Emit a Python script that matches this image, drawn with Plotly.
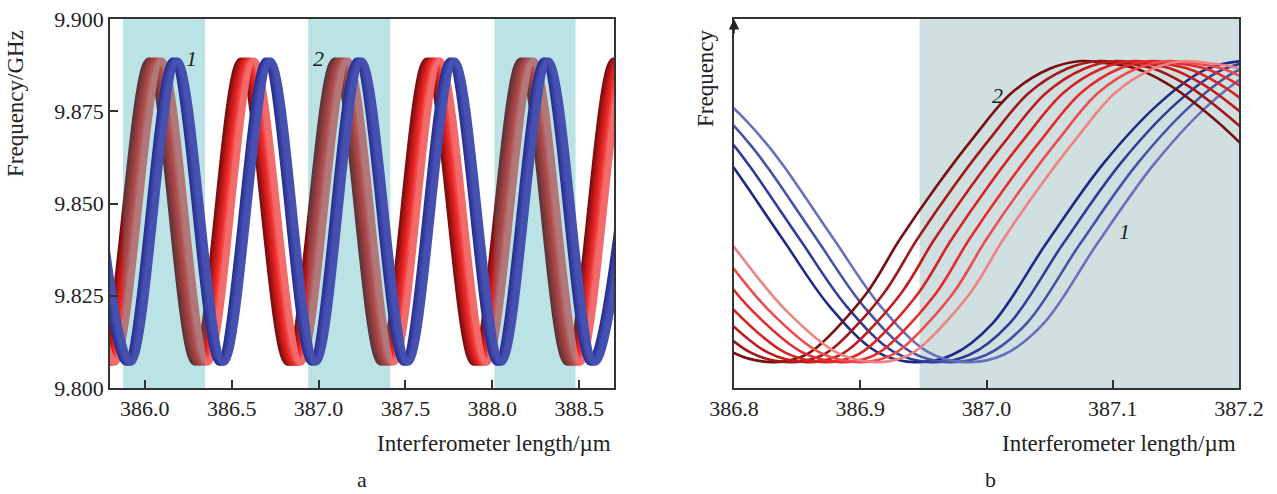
import plotly.graph_objects as go

# ---------------- panel a: periodic tuning curves ----------------
A_F_MIN = 9.807      # GHz, trough level
A_F_MAX = 9.8886     # GHz, peak level
A_Y_RANGE = [9.800, 9.900]
RED_A_PEAKS = [385.525, 386.06, 386.59, 387.13, 387.66, 388.20, 388.735]
RED_A_TROUGHS = [385.79, 386.325, 386.86, 387.395, 387.93, 388.4675, 389.0]
BLUE_A_PEAKS = [385.64, 386.175, 386.71, 387.235, 387.77, 388.31, 388.845]
BLUE_A_TROUGHS = [385.9075, 386.4425, 386.9725, 387.5025, 388.04, 388.5775]
RED_A_SHIFTS = [-0.0375, -0.025, -0.0125, 0.0, 0.0125, 0.025, 0.0375]
BLUE_A_SHIFTS = [-0.0145, -0.0048, 0.0048, 0.0145]
RED_A_COLORS = ["#7f0d0d", "#9e1414", "#bf1a1a", "#dc2020", "#ec2c2c", "#f14848", "#f26a6a"]
BLUE_A_COLORS = ["#2a2f90", "#333b9c", "#3c45a6", "#4650b0"]
A_BANDS = [(385.875, 386.347), (386.94, 387.413), (388.012, 388.479)]
A_XTICKS = [386.0, 386.5, 387.0, 387.5, 388.0, 388.5]
A_YTICKS = [9.800, 9.825, 9.850, 9.875, 9.900]

# ---------------- panel b: zoomed detail ----------------
RED_B_MINS = [386.830, 386.8437, 386.8574, 386.871, 386.885, 386.8985, 386.912]
BLUE_B_MINS = [386.943, 386.9565, 386.970, 386.9835]
RED_B_DX = [-0.29, -0.26, -0.23, -0.20, -0.17, -0.14, -0.112, -0.071, -0.03, 0.0, 0.023,
            0.036, 0.075, 0.101, 0.13, 0.16, 0.19, 0.22, 0.245, 0.26, 0.287, 0.315, 0.342,
            0.37, 0.40, 0.45]
RED_B_F = [9.8886, 9.8876, 9.8832, 9.8752, 9.864, 9.8508, 9.8382, 9.8211, 9.8095, 9.807,
           9.8084, 9.8111, 9.8257, 9.8401, 9.8545, 9.868, 9.880, 9.8865, 9.8886, 9.8882,
           9.8867, 9.8821, 9.8753, 9.8667, 9.855, 9.835]
BLUE_B_DX = [-0.27, -0.24, -0.21, -0.184, -0.157, -0.143, -0.104, -0.067, -0.03, 0.0, 0.03,
             0.062, 0.104, 0.15, 0.194, 0.23, 0.26, 0.30, 0.36]
BLUE_B_F = [9.8886, 9.887, 9.8826, 9.8759, 9.8659, 9.8596, 9.8401, 9.822, 9.8098, 9.807,
            9.809, 9.8176, 9.839, 9.861, 9.8772, 9.8862, 9.8886, 9.887, 9.876]
RED_B_COLORS = ["#7a0e0e", "#a21717", "#bf1c1c", "#d62323", "#e52b2b", "#ec4c4c", "#ef8282"]
BLUE_B_COLORS = ["#1e2a88", "#2f3c99", "#4552a8", "#6670bb"]
B_BAND = (386.947, 387.2)
B_XTICKS = [386.8, 386.9, 387.0, 387.1, 387.2]

SERIF = "Liberation Serif, Times New Roman, serif"
INK = "#222222"
FS = 22


def band_knots(peaks, troughs, shift):
    pts = sorted([(p + shift, A_F_MAX) for p in peaks] +
                 [(t + shift, A_F_MIN) for t in troughs])
    return [p[0] for p in pts], [p[1] for p in pts]


fig = go.Figure()

# panel a: red band first, then the translucent cyan windows, then the blue band
for shift, col in zip(RED_A_SHIFTS, RED_A_COLORS):
    xs, ys = band_knots(RED_A_PEAKS, RED_A_TROUGHS, shift)
    fig.add_trace(go.Scatter(x=xs, y=ys, mode="lines", xaxis="x", yaxis="y",
                             line=dict(color=col, width=7, shape="spline", smoothing=1.0),
                             showlegend=False, hoverinfo="skip"))
for x0, x1 in A_BANDS:
    fig.add_trace(go.Scatter(x=[x0, x1, x1, x0, x0],
                             y=[A_Y_RANGE[0], A_Y_RANGE[0], A_Y_RANGE[1], A_Y_RANGE[1], A_Y_RANGE[0]],
                             mode="lines", fill="toself", fillcolor="rgba(9,153,160,0.28)",
                             line=dict(width=0), xaxis="x", yaxis="y",
                             showlegend=False, hoverinfo="skip"))
for shift, col in zip(BLUE_A_SHIFTS, BLUE_A_COLORS):
    xs, ys = band_knots(BLUE_A_PEAKS, BLUE_A_TROUGHS, shift)
    fig.add_trace(go.Scatter(x=xs, y=ys, mode="lines", xaxis="x", yaxis="y",
                             line=dict(color=col, width=7, shape="spline", smoothing=1.0),
                             showlegend=False, hoverinfo="skip"))

# panel b curves
for m, col in zip(BLUE_B_MINS, BLUE_B_COLORS):
    fig.add_trace(go.Scatter(x=[m + d for d in BLUE_B_DX], y=BLUE_B_F, mode="lines",
                             xaxis="x2", yaxis="y2",
                             line=dict(color=col, width=2.6, shape="spline", smoothing=1.0),
                             showlegend=False, hoverinfo="skip"))
for m, col in zip(RED_B_MINS, RED_B_COLORS):
    fig.add_trace(go.Scatter(x=[m + d for d in RED_B_DX], y=RED_B_F, mode="lines",
                             xaxis="x2", yaxis="y2",
                             line=dict(color=col, width=2.6, shape="spline", smoothing=1.0),
                             showlegend=False, hoverinfo="skip"))

shapes = [dict(type="rect", xref="x2", yref="y2 domain", x0=B_BAND[0], x1=B_BAND[1],
               y0=0, y1=1, fillcolor="rgb(208,224,224)", line=dict(width=0), layer="below")]

axis_common = dict(showgrid=False, zeroline=False, showline=True, linecolor="#333333",
                   linewidth=1.8, mirror=True, ticks="inside", ticklen=8, tickwidth=1.5,
                   tickcolor="#333333", tickfont=dict(family=SERIF, size=FS, color=INK))

ya_dom = [1 - 388 / 494, 1 - 19 / 494]
fig.update_layout(
    width=1277, height=494,
    margin=dict(l=0, r=0, t=0, b=0, autoexpand=False),
    paper_bgcolor="white", plot_bgcolor="white",
    xaxis=dict(domain=[110 / 1277, 614 / 1277], range=[385.8, 388.7], anchor="y",
               tickvals=A_XTICKS, tickformat=".1f", **axis_common),
    yaxis=dict(domain=ya_dom, range=A_Y_RANGE, anchor="x",
               tickvals=A_YTICKS, tickformat=".3f", **axis_common),
    xaxis2=dict(domain=[734 / 1277, 1239 / 1277], range=[386.8, 387.2], anchor="y2",
                tickvals=B_XTICKS, tickformat=".1f", **axis_common),
    yaxis2=dict(domain=ya_dom, range=A_Y_RANGE, anchor="x2",
                showgrid=False, zeroline=False, showline=True, linecolor="#333333",
                linewidth=1.8, mirror=True, ticks="", showticklabels=False),
    shapes=shapes,
)

ann = []
lab = dict(family=SERIF, size=FS, color=INK)
ttl = dict(family=SERIF, size=23, color=INK)
ann.append(dict(text="Interferometer length/\u00b5m", xref="paper", yref="paper",
                x=613 / 1277, y=1 - 443 / 494, xanchor="right", yanchor="middle",
                showarrow=False, font=ttl))
ann.append(dict(text="Interferometer length/\u00b5m", xref="paper", yref="paper",
                x=1238 / 1277, y=1 - 443 / 494, xanchor="right", yanchor="middle",
                showarrow=False, font=ttl))
ann.append(dict(text="Frequency/GHz", xref="paper", yref="paper", textangle=-90,
                x=15 / 1277, y=1 - 104 / 494, xanchor="center", yanchor="middle",
                showarrow=False, font=ttl))
ann.append(dict(text="Frequency", xref="paper", yref="paper", textangle=-90,
                x=705 / 1277, y=1 - 78 / 494, xanchor="center", yanchor="middle",
                showarrow=False, font=ttl))
ann.append(dict(text="a", xref="paper", yref="paper", x=362 / 1277, y=0,
                xanchor="center", yanchor="bottom", showarrow=False, font=lab))
ann.append(dict(text="b", xref="paper", yref="paper", x=990 / 1277, y=0,
                xanchor="center", yanchor="bottom", showarrow=False, font=lab))
# curve labels
for txt, xr, yr, xv, yv in [("1", "x", "y", 386.267, 9.8894), ("2", "x", "y", 386.998, 9.8894),
                            ("1", "x2", "y2", 387.1096, 9.8423), ("2", "x2", "y2", 387.009, 9.8794)]:
    ann.append(dict(text="<i>" + txt + "</i>", xref=xr, yref=yr, x=xv, y=yv,
                    xanchor="center", yanchor="middle", showarrow=False, font=lab))
# arrow head on the frequency axis of panel b
ann.append(dict(text="", xref="x2", yref="y2", x=386.8, y=9.9, ax=0, ay=16,
                showarrow=True, arrowhead=2, arrowsize=1.3, arrowwidth=1.6,
                arrowcolor="#222222", standoff=0))
fig.update_layout(annotations=ann)

fig.write_html("out.html")
